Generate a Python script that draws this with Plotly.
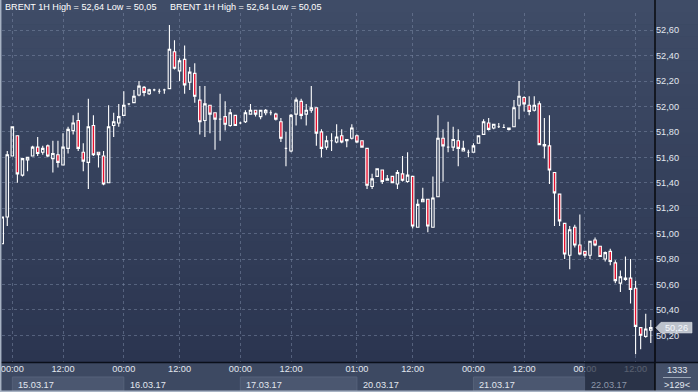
import plotly.graph_objects as go

# ---------------- data ----------------
opens = [50.92, 51.13, 51.61, 51.77, 51.46, 51.58, 51.61, 51.68, 51.64, 51.69,
         51.59, 51.62, 51.54, 51.67, 51.81, 51.89, 51.64, 51.56, 51.85, 51.64,
         51.61, 51.40, 51.85, 51.87, 51.93, 52.02, 52.03, 52.09, 52.15, 52.10,
         52.13, 52.12, 52.13, 52.14, 52.43, 52.28, 52.37, 52.19, 52.26, 52.05,
         51.89, 52.01, 51.95, 51.90, 51.92, 51.85, 51.93, 51.87, 51.88, 51.94,
         51.97, 51.92, 51.95, 51.95, 51.94, 51.88, 51.67, 51.65, 51.94, 52.04,
         51.94, 51.97, 51.99, 51.80, 51.68, 51.73, 51.72, 51.77, 51.73, 51.75,
         51.77, 51.73, 51.67, 51.37, 51.45, 51.50, 51.42, 51.45, 51.39, 51.47,
         51.41, 51.45, 51.05, 51.25, 51.27, 51.05, 51.29, 51.75, 51.68, 51.68,
         51.73, 51.65, 51.64, 51.64, 51.71, 51.78, 51.87, 51.83, 51.84, 51.835,
         51.82, 51.84, 52.01, 52.07, 52.01, 51.97, 52.02, 51.69, 51.69, 51.48,
         51.31, 51.08, 50.83, 51.05, 50.91, 50.86, 50.83, 50.95, 50.90, 50.80,
         50.86, 50.77, 50.61, 50.65, 50.65, 50.57, 50.26, 50.19, 50.24]
highs = [51.13, 51.65, 51.84, 51.77, 51.59, 51.60, 51.69, 51.76, 51.69, 51.70,
         51.73, 51.73, 51.79, 51.84, 51.93, 51.95, 51.71, 52.06, 51.93, 51.64,
         51.65, 52.01, 51.95, 52.02, 52.12, 52.02, 52.13, 52.20, 52.16, 52.14,
         52.14, 52.14, 52.14, 52.64, 52.52, 52.38, 52.48, 52.31, 52.34, 52.16,
         52.16, 52.01, 51.95, 52.10, 52.04, 51.98, 51.93, 51.88, 51.97, 52.02,
         51.97, 51.97, 51.98, 51.97, 51.95, 51.91, 51.80, 51.94, 52.07, 52.06,
         52.02, 52.16, 51.99, 51.82, 51.77, 51.79, 51.86, 51.82, 51.74, 51.86,
         51.78, 51.73, 51.67, 51.47, 51.51, 51.50, 51.46, 51.45, 51.50, 51.61,
         51.64, 51.45, 51.27, 51.36, 51.27, 51.45, 51.93, 51.82, 51.88, 51.84,
         51.82, 51.73, 51.66, 51.71, 51.77, 51.90, 51.91, 51.86, 51.87, 51.86,
         51.83, 52.05, 52.20, 52.08, 52.08, 52.08, 52.04, 51.91, 51.93, 51.48,
         51.31, 51.08, 51.06, 51.07, 51.15, 50.86, 50.94, 50.97, 50.90, 50.86,
         50.88, 50.79, 50.71, 50.82, 50.80, 50.63, 50.26, 50.37, 50.32]
lows = [50.92, 51.06, 51.61, 51.40, 51.45, 51.49, 51.61, 51.61, 51.62, 51.60,
        51.48, 51.52, 51.54, 51.63, 51.78, 51.65, 51.49, 51.35, 51.61, 51.52,
        51.38, 51.40, 51.76, 51.84, 51.93, 52.01, 52.03, 52.08, 52.08, 52.09,
        52.12, 52.10, 52.10, 52.14, 52.29, 52.20, 52.10, 52.13, 52.03, 51.78,
        51.76, 51.79, 51.66, 51.73, 51.81, 51.84, 51.85, 51.86, 51.87, 51.94,
        51.92, 51.90, 51.93, 51.93, 51.89, 51.72, 51.53, 51.64, 51.85, 51.90,
        51.85, 51.95, 51.69, 51.60, 51.66, 51.65, 51.71, 51.71, 51.68, 51.74,
        51.71, 51.68, 51.35, 51.35, 51.45, 51.39, 51.42, 51.40, 51.35, 51.41,
        51.40, 51.04, 51.05, 51.25, 51.01, 51.05, 51.29, 51.41, 51.64, 51.65,
        51.53, 51.65, 51.60, 51.64, 51.71, 51.78, 51.81, 51.82, 51.83, 51.83,
        51.81, 51.84, 51.90, 51.96, 51.93, 51.96, 51.70, 51.59, 51.39, 51.06,
        51.06, 50.80, 50.72, 50.89, 50.83, 50.81, 50.80, 50.90, 50.82, 50.78,
        50.75, 50.61, 50.54, 50.63, 50.45, 50.05, 50.09, 50.18, 50.14]
closes = [51.13, 51.62, 51.84, 51.47, 51.59, 51.60, 51.68, 51.63, 51.67, 51.61,
          51.63, 51.56, 51.68, 51.82, 51.87, 51.67, 51.57, 51.84, 51.62, 51.62,
          51.39, 51.84, 51.88, 51.92, 52.01, 52.02, 52.08, 52.16, 52.11, 52.13,
          52.13, 52.12, 52.13, 52.45, 52.30, 52.36, 52.17, 52.27, 52.08, 51.88,
          52.02, 51.94, 51.90, 51.90, 51.86, 51.95, 51.85, 51.87, 51.95, 51.97,
          51.94, 51.97, 51.97, 51.95, 51.90, 51.75, 51.67, 51.93, 52.05, 51.93,
          51.97, 51.99, 51.79, 51.67, 51.73, 51.73, 51.76, 51.72, 51.74, 51.83,
          51.72, 51.68, 51.38, 51.43, 51.51, 51.41, 51.43, 51.40, 51.48, 51.42,
          51.46, 51.06, 51.23, 51.27, 51.06, 51.28, 51.75, 51.69, 51.68, 51.74,
          51.67, 51.67, 51.64, 51.69, 51.77, 51.88, 51.82, 51.86, 51.84, 51.835,
          51.83, 51.99, 52.08, 52.02, 51.96, 52.01, 51.70, 51.70, 51.50, 51.32,
          51.10, 50.84, 51.03, 50.91, 50.84, 50.83, 50.94, 50.91, 50.82, 50.85,
          50.78, 50.63, 50.66, 50.64, 50.56, 50.27, 50.20, 50.25, 50.26]

tick_idx = [2, 12, 24, 35, 47, 57, 70, 81, 93, 103, 115, 125]
tick_text = ["00:00", "12:00", "00:00", "12:00", "00:00", "12:00",
             "01:00", "12:00", "00:00", "12:00", "00:00", "12:00"]
date_idx = [2, 24, 47, 70, 93, 115]
date_text = ["15.03.17", "16.03.17", "17.03.17", "20.03.17", "21.03.17", "22.03.17"]
y_ticks = [50.2, 50.4, 50.6, 50.8, 51.0, 51.2, 51.4, 51.6, 51.8, 52.0, 52.2, 52.4, 52.6]
header_text = "BRENT 1H High = 52,64 Low = 50,05"
last_price = 50.26
volume_text = "1333"
bars_text = ">129<"

# ---------------- geometry / style ----------------
W, H = 698, 392
L, R, T, B = 2, 43, 13, 30
PW, PH = W - L - R, H - T - B
xr = [-0.04, 128.83]
yr = [49.99, 52.735]
FONT = "Liberation Sans, Arial, sans-serif"
TXT = "#e2e7ef"
FS = 9.2


def px(xpix):
    return (xpix - L) / PW


def py(ypix):
    return (H - B - ypix) / PH


def ix(i):
    return (i - xr[0]) / (xr[1] - xr[0])


def vy(v):
    return (v - yr[0]) / (yr[1] - yr[0])


x = list(range(len(opens)))

fig = go.Figure(go.Candlestick(
    x=x, open=opens, high=highs, low=lows, close=closes,
    increasing=dict(line=dict(color="#ffffff", width=1.1), fillcolor="rgba(0,0,0,0)"),
    decreasing=dict(line=dict(color="#ffffff", width=1.1), fillcolor="#e8102e"),
    whiskerwidth=0, hoverinfo="skip", showlegend=False,
))

shapes = []
# background gradient
top_c = (63, 76, 103)
bot_c = (43, 53, 80)
nb = 30
for k in range(nb):
    y0p = 362 * k / nb
    y1p = 362 * (k + 1) / nb
    t = (k + 0.5) / nb
    c = tuple(round(top_c[j] + (bot_c[j] - top_c[j]) * t) for j in range(3))
    shapes.append(dict(type="rect", xref="paper", yref="paper", layer="below",
                       x0=px(0), x1=px(W), y0=py(y1p + 0.5), y1=py(y0p),
                       fillcolor="rgb(%d,%d,%d)" % c, line=dict(width=0)))
# axis area
shapes.append(dict(type="rect", xref="paper", yref="paper", layer="below",
                   x0=px(0), x1=px(W), y0=py(H), y1=py(362),
                   fillcolor="#3d4962", line=dict(width=0)))
# date boxes (alternating)
for k in range(0, len(date_idx) - 1, 2):
    shapes.append(dict(type="rect", xref="paper", yref="paper", layer="below",
                       x0=ix(date_idx[k]), x1=ix(date_idx[k + 1]),
                       y0=py(391), y1=py(377),
                       fillcolor="#4b5770", line=dict(color="#56627a", width=1)))
# bottom right box
shapes.append(dict(type="rect", xref="paper", yref="paper", layer="below",
                   x0=px(655), x1=px(W), y0=py(H), y1=py(362),
                   fillcolor="#445069", line=dict(width=0)))
shapes.append(dict(type="line", xref="paper", yref="paper", layer="above",
                   x0=px(663), x1=px(691), y0=py(377.5), y1=py(377.5),
                   line=dict(color="#9aa5b6", width=1)))
# dim overlay for current day
shapes.append(dict(type="rect", xref="paper", yref="paper", layer="above",
                   x0=ix(date_idx[-1]), x1=px(655), y0=py(391), y1=py(363),
                   fillcolor="rgba(34,43,62,0.72)", line=dict(width=0)))
# black separator lines
shapes.append(dict(type="line", xref="paper", yref="paper", layer="above",
                   x0=px(655), x1=px(655), y0=py(H), y1=py(0),
                   line=dict(color="#000000", width=1.3)))
shapes.append(dict(type="line", xref="paper", yref="paper", layer="above",
                   x0=px(0), x1=px(W), y0=py(362.5), y1=py(362.5),
                   line=dict(color="#0a0f1a", width=1.3)))
# light outer border
shapes.append(dict(type="line", xref="paper", yref="paper", layer="above",
                   x0=px(0.7), x1=px(0.7), y0=py(H), y1=py(0),
                   line=dict(color="#a7b2c3", width=1.5)))
shapes.append(dict(type="line", xref="paper", yref="paper", layer="above",
                   x0=px(0), x1=px(W), y0=py(391.3), y1=py(391.3),
                   line=dict(color="#a7b2c3", width=1.5)))
# price marker
pyv = vy(last_price)
hh = 5.3 / PH
shapes.append(dict(type="path", xref="paper", yref="paper", layer="above",
                   path="M %f,%f L %f,%f L %f,%f L %f,%f L %f,%f Z" % (
                       px(655.8), pyv, px(661), pyv + hh, px(692), pyv + hh,
                       px(692), pyv - hh, px(661), pyv - hh),
                   fillcolor="#bcc2cc", line=dict(color="#d6dae0", width=0.6)))

ann = []
for xp in (3, 168):
    ann.append(dict(x=px(xp), y=py(7), xref="paper", yref="paper", text=header_text,
                    showarrow=False, xanchor="left", yanchor="middle",
                    font=dict(family=FONT, size=9.1, color="#ffffff")))
for k, (di, dt) in enumerate(zip(date_idx, date_text)):
    ann.append(dict(x=ix(di), y=py(384.5), xref="paper", yref="paper", text=dt,
                    showarrow=False, xanchor="left", yanchor="middle", xshift=4,
                    font=dict(family=FONT, size=FS,
                              color="#8d97a9" if k == len(date_idx) - 1 else TXT)))
ann.append(dict(x=px(676.5), y=py(370), xref="paper", yref="paper", text=volume_text,
                showarrow=False, xanchor="center", yanchor="middle",
                font=dict(family=FONT, size=FS, color=TXT)))
ann.append(dict(x=px(676.5), y=py(384.5), xref="paper", yref="paper", text=bars_text,
                showarrow=False, xanchor="center", yanchor="middle",
                font=dict(family=FONT, size=FS, color=TXT)))
ann.append(dict(x=px(676), y=pyv, xref="paper", yref="paper",
                text=("%.2f" % last_price).replace(".", ","),
                showarrow=False, xanchor="center", yanchor="middle",
                font=dict(family=FONT, size=FS, color="#f4f7fc")))

grid = "rgba(125,140,168,0.5)"
fig.update_layout(
    width=W, height=H,
    margin=dict(l=L, r=R, t=T, b=B, pad=0),
    paper_bgcolor="#34405a", plot_bgcolor="rgba(0,0,0,0)",
    separators=", ",
    font=dict(family=FONT, size=FS, color=TXT),
    shapes=shapes, annotations=ann,
    showlegend=False, hovermode=False,
    xaxis=dict(range=xr, tickvals=tick_idx, ticktext=tick_text, ticks="",
               showgrid=True, gridcolor=grid, griddash="3px,3px", gridwidth=1,
               zeroline=False, showline=False, rangeslider=dict(visible=False),
               tickfont=dict(family=FONT, size=FS, color=TXT), fixedrange=True),
    yaxis=dict(range=yr, side="right", tickvals=y_ticks, tickformat=".2f", ticks="",
               showgrid=True, gridcolor=grid, griddash="3px,3px", gridwidth=1,
               zeroline=False, showline=False,
               tickfont=dict(family=FONT, size=FS, color=TXT), fixedrange=True),
)

fig.write_html("out.html", config={"staticPlot": True, "displayModeBar": False},
               post_script="document.body.style.margin='0';document.body.style.overflow='hidden';")
